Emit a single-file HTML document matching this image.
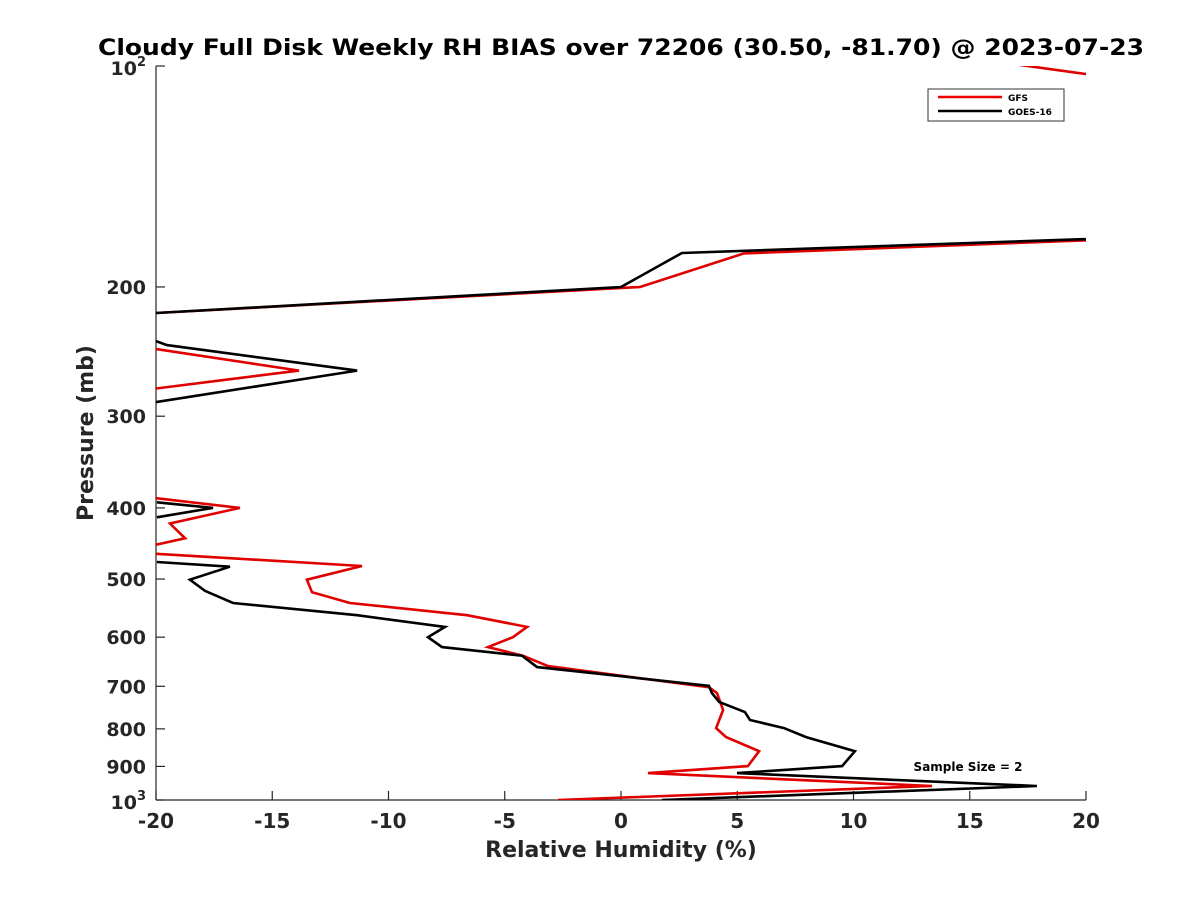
<!DOCTYPE html>
<html><head><meta charset="utf-8"><style>
body{margin:0;background:#fff;}
svg text{font-family:"DejaVu Sans","Liberation Sans",sans-serif;font-weight:bold;}
</style></head><body>
<svg id="chart" width="1200" height="900" xmlns="http://www.w3.org/2000/svg">
<defs><clipPath id="plotclip"><rect x="156" y="66" width="930" height="734"/></clipPath></defs>
<rect width="1200" height="900" fill="#fff"/>
<text x="621" y="55" font-size="22" text-anchor="middle" fill="#000" textLength="1046" lengthAdjust="spacingAndGlyphs">Cloudy Full Disk Weekly RH BIAS over 72206 (30.50, -81.70) @ 2023-07-23</text>
<g id="axes"></g>
<g id="series" clip-path="url(#plotclip)"></g>
<text x="621" y="857" font-size="22" text-anchor="middle" fill="#262626">Relative Humidity (%)</text>
<text transform="translate(93,433) rotate(-90)" font-size="22" text-anchor="middle" fill="#262626">Pressure (mb)</text>
<text x="968" y="771" font-size="12" text-anchor="middle" fill="#000">Sample Size = 2</text>
<g>
<rect x="928" y="89" width="136" height="32" fill="#fff" stroke="#333" stroke-width="1"/>
<line x1="938" y1="97" x2="1002" y2="97" stroke="#e00" stroke-width="2.5"/>
<text x="1008" y="101" font-size="9" fill="#000">GFS</text>
<line x1="938" y1="111" x2="1002" y2="111" stroke="#000" stroke-width="2.5"/>
<text x="1008" y="115" font-size="9" fill="#000">GOES-16</text>
</g>
</svg>
<script>
const xTicks=[-20,-15,-10,-5,0,5,10,15,20];
const yTicks=[100,200,300,400,500,600,700,800,900,1000];
const yTickLabels=["","200","300","400","500","600","700","800","900",""];
const goesP=[167.8,179.8,200,217,null,237,240,260,287,null,393,400,412,null,474,481,501,519,539,560,581,600,619,636,659,699,715,735,759,778,798,821,858,899,919,957,1000];
const goesX=[30,2.62,0,-20,null,-20,-19.53,-11.35,-20,null,-19.96,-17.55,-19.96,null,-19.96,-16.82,-18.54,-17.89,-16.69,-11.35,-7.57,-8.30,-7.70,-4.26,-3.61,3.78,3.91,4.22,5.33,5.55,7.01,7.96,10.06,9.51,4.99,17.89,1.76];
const gfsP=[98.5,107.8,null,168,180,200,217,null,243,260,275,null,388,400,420,440,449,null,462,480,501,521,539,560,581,600,619,636,657,702,715,754,798,821,858,899,919,957,1000];
const gfsX=[16.0,24.9,null,30,5.29,0.82,-20,null,-20,-13.85,-20,null,-20,-16.39,-19.40,-18.75,-20,null,-20,-11.14,-13.51,-13.29,-11.66,-6.62,-4.04,-4.65,-5.72,-4.22,-3.14,3.78,4.13,4.39,4.09,4.52,5.94,5.46,1.16,13.38,-2.71];

const X0=156,X1=1086,Y0=66,Y1=800;
function xs(v){return X0+(v+20)/40*(X1-X0);}
function ys(p){return Y0+Math.log10(p/100)*(Y1-Y0);}
const NS="http://www.w3.org/2000/svg";
const axes=document.getElementById('axes');
function mk(tag,attrs,parent){const e=document.createElementNS(NS,tag);for(const k in attrs)e.setAttribute(k,attrs[k]);parent.appendChild(e);return e;}
let e=mk('line',{x1:X0,y1:Y0,x2:X0,y2:Y1,stroke:'#262626','stroke-width':1.2},axes);


e=mk('line',{x1:X0,y1:Y1,x2:X1,y2:Y1,stroke:'#262626','stroke-width':1.2},axes);


xTicks.forEach(v=>{
  const x=xs(v);
  let t=mk('line',{x1:x,y1:Y1,x2:x,y2:Y1-9,stroke:'#262626','stroke-width':1.2},axes);
  
  
  let l=mk('text',{x:x,y:Y1+28,'font-size':20,'text-anchor':'middle',fill:'#262626'},axes);
  l.textContent=String(v);
  
  
});
yTicks.forEach((p,i)=>{
  const y=ys(p);
  let t=mk('line',{x1:X0,y1:y,x2:X0+9,y2:y,stroke:'#262626','stroke-width':1.2},axes);
  
  
  if(yTickLabels[i]){
    let l=mk('text',{x:X0-10,y:y+7,'font-size':19,'text-anchor':'end',fill:'#262626'},axes);
    l.textContent=yTickLabels[i];
    
    
  }
});
[[100,'y-tick-label-100'],[1000,'y-tick-label-1000']].forEach(([p,n])=>{
  const y=ys(p);
  let l=mk('text',{x:X0-10,y:y+9,'font-size':19,'text-anchor':'end',fill:'#262626'},axes);
  l.innerHTML='10<tspan dy="-9" font-size="13">'+(p===100?'2':'3')+'</tspan>';
  
  
});
const series=document.getElementById('series');
function drawLine(P,X,color,name){
  let d='',pen=false;
  for(let i=0;i<P.length;i++){
    if(P[i]===null){pen=false;continue;}
    d+=(pen?'L':'M')+xs(X[i]).toFixed(1)+' '+ys(P[i]).toFixed(1)+' ';pen=true;
  }
  const pth=mk('path',{d:d,fill:'none',stroke:color,'stroke-width':2.6,'stroke-linejoin':'miter'},series);
  
  
}
drawLine(gfsP,gfsX,'#e00000','gfs-line');
drawLine(goesP,goesX,'#000','goes16-line');
</script>
</body></html>
